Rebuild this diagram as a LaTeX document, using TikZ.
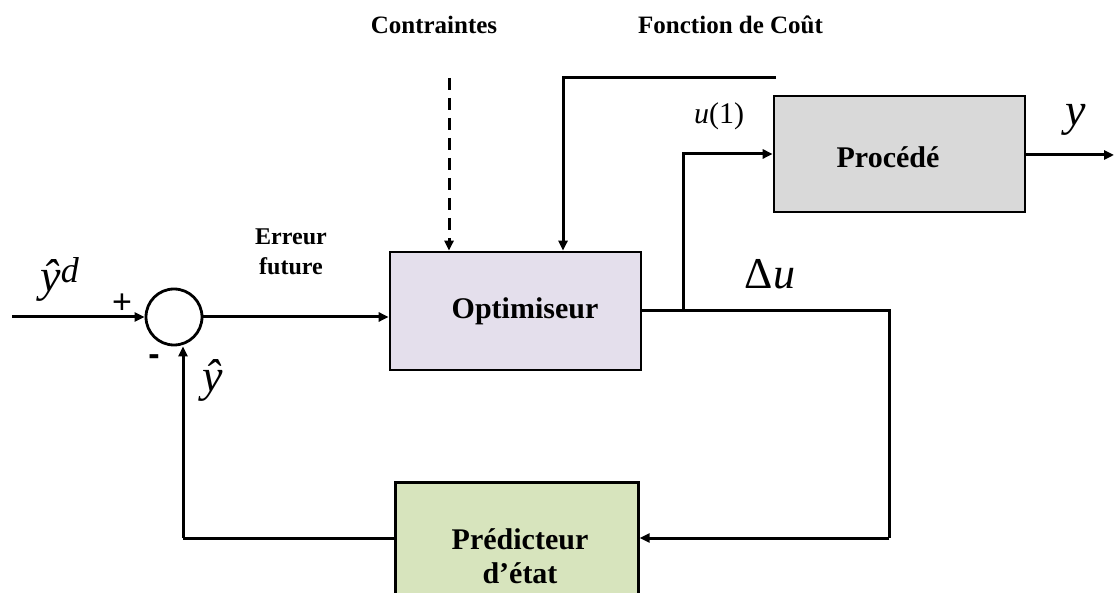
\documentclass[tikz,border=0pt]{standalone}
\usepackage{fontspec}
\setmainfont{Liberation Serif}
\newfontfamily\sansf{Liberation Sans}
\usetikzlibrary{arrows.meta}
\definecolor{optc}{HTML}{E4DFEC}
\definecolor{proc}{HTML}{D9D9D9}
\definecolor{predc}{HTML}{D7E4BD}
\tikzset{
  wire/.style={line width=3pt},
  arr/.style={wire,-{Triangle[length=10pt,width=9pt]}},
  blk/.style={draw,line width=2.6pt,inner sep=0pt},
  lbl/.style={font=\bfseries,align=center,inner sep=0pt},
  mth/.style={inner sep=0pt},
}
\begin{document}
\begin{tikzpicture}[x=1pt,y=-1pt]
\useasboundingbox (0,0) rectangle (1114,593);
\clip (0,0) rectangle (1114,593);
% blocks
\node[blk,fill=optc,minimum width=251pt,minimum height=118pt] (opt) at (515.5,311) {};
\node[lbl,font=\bfseries\fontsize{30}{34}\selectfont] at (525,311) {Optimiseur};
\node[blk,fill=proc,minimum width=251pt,minimum height=116pt] (proc) at (899.5,154) {};
\node[lbl,font=\bfseries\fontsize{30}{34}\selectfont] at (888,157) {Procédé};
\node[blk,fill=predc,minimum width=243pt,minimum height=130pt,anchor=north west] (pred) at (394,481) {};
\node[lbl,font=\bfseries\fontsize{30}{34}\selectfont] at (520,556) {Prédicteur\\d’état};
% summing junction
\node[draw,circle,line width=2.8pt,minimum size=56pt,inner sep=0pt] (sum) at (174,317) {};
% coordinates
\coordinate (in) at (12,317);
\coordinate (br) at (683,311);
\coordinate (rt) at (889,311);
\coordinate (rb) at (889,538);
\coordinate (lb) at (183,538);
\coordinate (ctop) at (449,78);
\coordinate (ftop) at (776,78);
\coordinate (fcorner) at (563,78);
\coordinate (uc) at (683,154);
\coordinate (yout) at (1114,155);
% connectors
\draw[arr] (in) -- (sum.west);
\draw[arr] (sum.east) -- (sum.east -| opt.west);
\draw[wire] (opt.east) -- (rt) -- (rb);
\draw[arr] (rb) -- (pred.east |- rb);
\draw[wire] (pred.west |- lb) -- (lb);
\draw[arr] (lb) -- (sum.south -| lb);
\draw[arr] (br) -- (uc) -- (proc.west |- uc);
\draw[arr] (proc.east |- yout) -- (yout);
\draw[arr,dash pattern=on 12pt off 8pt] (ctop) -- (opt.north -| ctop);
\draw[arr] (ftop) -- (fcorner) -- (opt.north -| fcorner);
% labels
\node[lbl,font=\bfseries\fontsize{25}{28}\selectfont] at (434,25) {Contraintes};
\node[lbl,font=\bfseries\fontsize{25}{28}\selectfont,anchor=west] at (638,25) {Fonction de Coût};
\node[lbl,font=\bfseries\fontsize{24}{30}\selectfont] at (291,252) {Erreur\\future};
\node[mth,font=\fontsize{46}{48}\selectfont] at (60,279) {\itshape ŷ\textsuperscript{\fontsize{36}{38}\selectfont d}};
\node[mth,font=\sansf\fontsize{34}{36}\selectfont] at (122,304) {+};
\node[mth,font=\sansf\bfseries\fontsize{34}{36}\selectfont] at (154,360) {-};
\node[mth,font=\fontsize{46}{48}\selectfont] at (213,380) {\itshape ŷ};
\node[mth,font=\fontsize{30}{32}\selectfont] at (719,116) {{\itshape u}(1)};
\node[mth,font=\fontsize{46}{48}\selectfont] at (1076,120) {\itshape y};
\node[mth,font=\fontsize{44}{46}\selectfont] at (770,274) {Δ{\itshape u}};
\end{tikzpicture}
\end{document}
